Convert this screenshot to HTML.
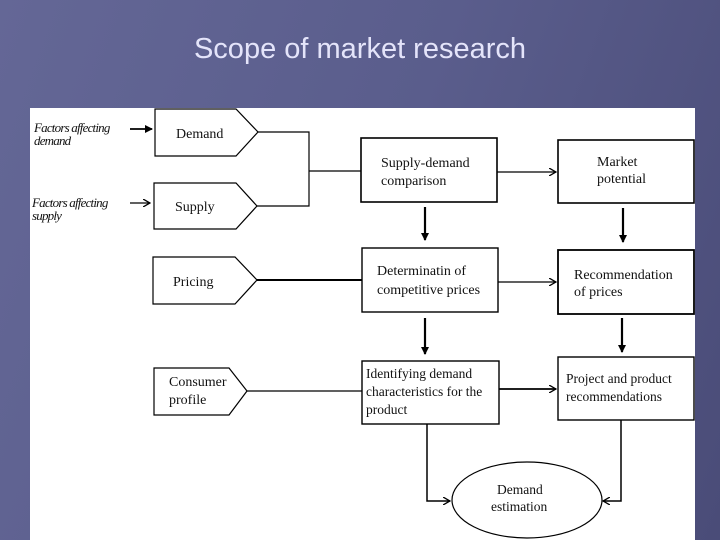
<!DOCTYPE html>
<html><head><meta charset="utf-8"><style>
html,body{margin:0;padding:0;width:720px;height:540px;overflow:hidden}
body{background:linear-gradient(110deg,#646796 0%,#5a5d8c 50%,#4a4c78 100%);position:relative;font-family:"Liberation Sans",sans-serif}
.t{position:absolute;left:0;width:720px;top:33px;text-align:center;color:#e4e4fa;font-size:29px}
svg{position:absolute;left:0;top:0}
text{font-family:"Liberation Serif",serif;font-size:14px;fill:#111}
</style></head><body>
<div class="t">Scope of market research</div>
<svg width="720" height="540" viewBox="0 0 720 540">
<defs>
<marker id="a" markerWidth="8" markerHeight="8" refX="7" refY="4" orient="auto" markerUnits="userSpaceOnUse"><path d="M0,0 L7,4 L0,8" fill="none" stroke="#000" stroke-width="1.3"/></marker>
<marker id="f" markerWidth="8" markerHeight="8" refX="7" refY="4" orient="auto" markerUnits="userSpaceOnUse"><path d="M0,0 L8,4 L0,8Z" fill="#000"/></marker>
</defs>
<rect x="30" y="108" width="665" height="432" fill="#fff"/>
<g fill="none" stroke="#000" stroke-width="1.2">
<path d="M155,109 H236 L258,132 L236,156 H155Z"/>
<path d="M154,183 H236 L257,206 L236,229 H154Z"/>
<path d="M153,257 H235 L257,280 L235,304 H153Z"/>
<path d="M154,368 H229 L247,391 L229,415 H154Z"/>
<rect x="361" y="138" width="136" height="64" stroke-width="1.6"/>
<rect x="558" y="140" width="136" height="63" stroke-width="1.6"/>
<rect x="362" y="248" width="136" height="64" stroke-width="1.4"/>
<rect x="558" y="250" width="136" height="64" stroke-width="1.8"/>
<rect x="362" y="361" width="137" height="63" stroke-width="1.4"/>
<rect x="558" y="357" width="136" height="63" stroke-width="1.4"/>
<ellipse cx="527" cy="500" rx="75" ry="38"/>
<path d="M258,132 H309 V206 H257"/>
<path d="M309,171 H361"/>
<path d="M497,172 H556" marker-end="url(#a)"/>
<path d="M498,282 H556" marker-end="url(#a)"/>
<path d="M499,389 H556" stroke-width="1.8" marker-end="url(#a)"/>
<path d="M257,280 H362" stroke-width="2"/>
<path d="M247,391 H362"/>
<path d="M130,129 H152" stroke-width="1.8" marker-end="url(#f)"/>
<path d="M130,203 H150" marker-end="url(#a)"/>
<path d="M425,207 V240" stroke-width="2.2" marker-end="url(#f)"/>
<path d="M623,208 V242" stroke-width="2.2" marker-end="url(#f)"/>
<path d="M425,318 V354" stroke-width="2.2" marker-end="url(#f)"/>
<path d="M622,318 V352" stroke-width="2.2" marker-end="url(#f)"/>
<path d="M427,424 V501 H450" stroke-width="1.5" marker-end="url(#a)"/>
<path d="M621,420 V501 H603" stroke-width="1.5" marker-end="url(#a)"/>
</g>
<g font-style="italic">
<text x="34" y="132" style="font-size:13px;font-style:italic;letter-spacing:-0.8px">Factors affecting</text>
<text x="34" y="145" style="font-size:13px;font-style:italic;letter-spacing:-0.8px">demand</text>
<text x="32" y="207" style="font-size:13px;font-style:italic;letter-spacing:-0.8px">Factors affecting</text>
<text x="32" y="220" style="font-size:13px;font-style:italic;letter-spacing:-0.8px">supply</text>
</g>
<text x="176" y="138">Demand</text>
<text x="175" y="211">Supply</text>
<text x="173" y="286">Pricing</text>
<text x="169" y="386">Consumer</text>
<text x="169" y="404">profile</text>
<text x="381" y="167">Supply-demand</text>
<text x="381" y="185">comparison</text>
<text x="597" y="166">Market</text>
<text x="597" y="183">potential</text>
<text x="377" y="275">Determinatin of</text>
<text x="377" y="294">competitive prices</text>
<text x="574" y="279">Recommendation</text>
<text x="574" y="296">of prices</text>
<text x="366" y="378" style="font-size:13.5px">Identifying demand</text>
<text x="366" y="396" style="font-size:13.5px">characteristics for the</text>
<text x="366" y="414" style="font-size:13.5px">product</text>
<text x="566" y="383" style="font-size:13.5px">Project and product</text>
<text x="566" y="401" style="font-size:13.5px">recommendations</text>
<text x="497" y="494" style="font-size:13.5px">Demand</text>
<text x="491" y="511" style="font-size:13.5px">estimation</text>
</svg>
</body></html>
